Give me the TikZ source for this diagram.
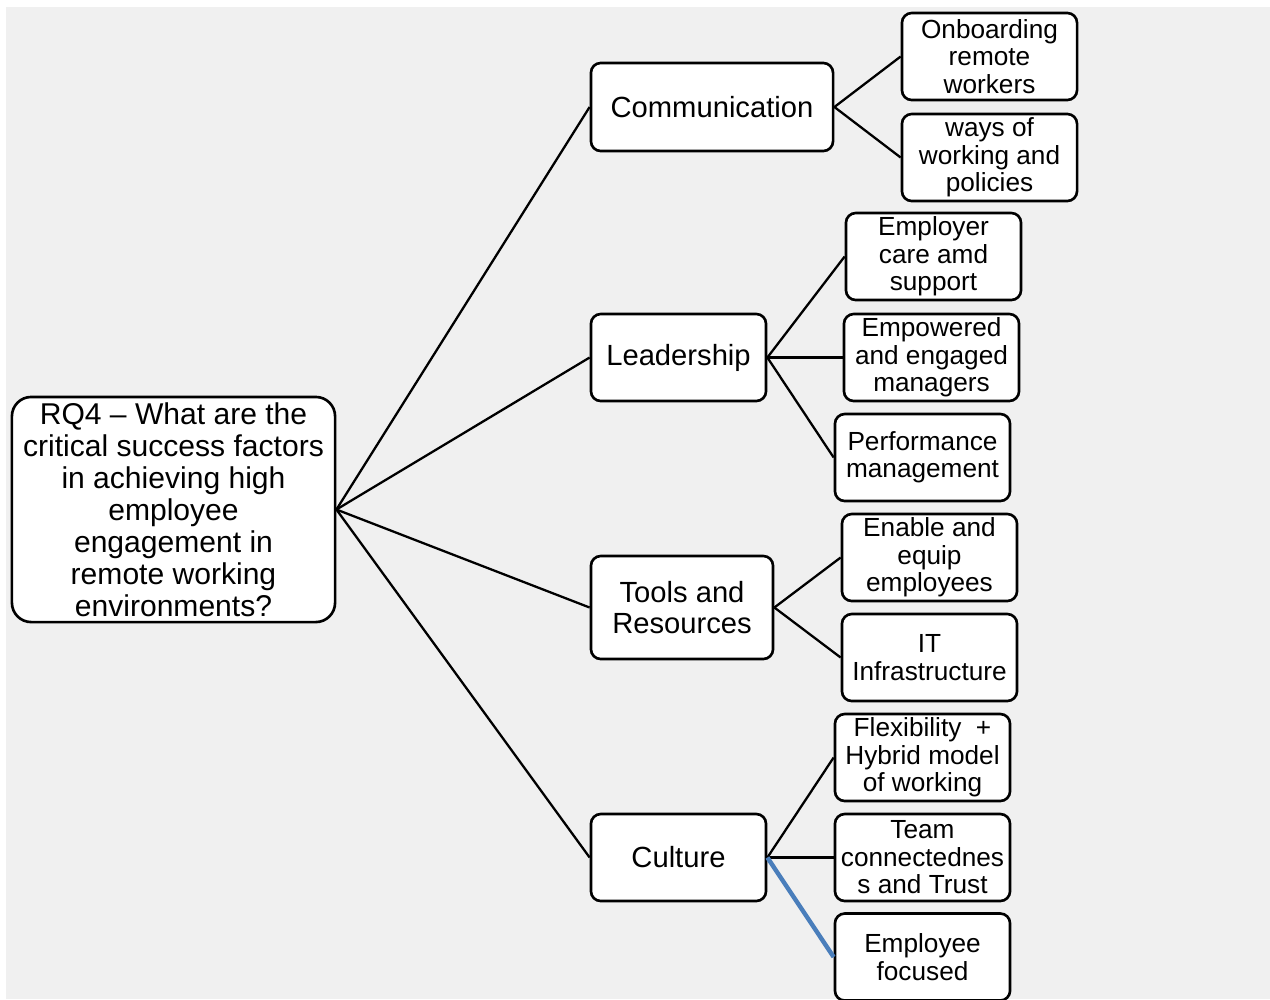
\documentclass[tikz,border=0pt]{standalone}
\usepackage{fontspec}
\setmainfont{Liberation Sans}
\definecolor{canvas}{HTML}{F0F0F0}
\definecolor{linkblue}{HTML}{4A7EBB}
\begin{document}
\begin{tikzpicture}[x=0.01cm,y=-0.01cm,
  box/.style={draw=black, fill=white, line width=0.75pt, rounded corners=2.8pt,
    inner sep=0pt, align=center},
  rootbox/.style={box, rounded corners=5.5pt, minimum width=3.23cm, minimum height=2.25cm,
    font=\fontsize{8.55}{9.1}\selectfont},
  branch/.style={box, minimum height=0.87cm, font=\fontsize{8.3}{8.8}\selectfont},
  leaf/.style={box, minimum width=1.75cm, minimum height=0.87cm,
    font=\fontsize{7.45}{7.8}\selectfont},
  link/.style={draw=black, line width=0.65pt},
  hilink/.style={draw=linkblue, line width=1.25pt}
]
\useasboundingbox (0,0) rectangle (1270,999);
\fill[canvas] (6,7) rectangle (1270,999);

% root question
\node[rootbox] (root) at (173.5,509.5) {RQ4 -- What are the\\critical success factors\\in achieving high\\employee\\engagement in\\remote working\\environments?};

% first-level factors
\node[branch, minimum width=2.42cm, minimum height=0.88cm] (comm) at (712,107) {Communication};
\node[branch, minimum width=1.75cm] (lead) at (678.5,357.5) {Leadership};
\node[branch, minimum width=1.82cm, minimum height=1.03cm] (tools) at (682,607.5) {Tools and\\Resources};
\node[branch, minimum width=1.75cm] (cult) at (678.5,857.5) {Culture};

% sub-factors
\node[leaf] (onb)   at (989.5,56.5)  {Onboarding\\remote\\workers};
\node[leaf] (ways)  at (989.5,157.5) {ways of\\working and\\policies};
\node[leaf] (care)  at (933.5,256.5) {Employer\\care amd\\support};
\node[leaf] (empw)  at (931.5,357.5) {Empowered\\and engaged\\managers};
\node[leaf] (perf)  at (922.5,457.5) {Performance\\management};
\node[leaf] (enab)  at (929.5,557.5) {Enable and\\equip\\employees};
\node[leaf] (itinf) at (929.5,657.5) {IT\\Infrastructure};
\node[leaf] (flex)  at (922.5,757.5) {Flexibility\ \ +\\Hybrid\ model\\of working};
\node[leaf] (team)  at (922.5,857.5) {Team\\connectednes\\s and Trust};
\node[leaf] (focus) at (922.5,957)   {Employee\\focused};

% connectors
\foreach \b in {comm,lead,tools,cult}
  \draw[link] (root.east) -- (\b.west);
\draw[link] (comm.east) -- (onb.west);
\draw[link] (comm.east) -- (ways.west);
\draw[link] (lead.east) -- (care.west);
\draw[link] (lead.east) -- (empw.west);
\draw[link] (lead.east) -- (perf.west);
\draw[link] (tools.east) -- (enab.west);
\draw[link] (tools.east) -- (itinf.west);
\draw[link] (cult.east) -- (flex.west);
\draw[link] (cult.east) -- (team.west);
\draw[hilink] (cult.east) -- (focus.west);
\end{tikzpicture}
\end{document}
